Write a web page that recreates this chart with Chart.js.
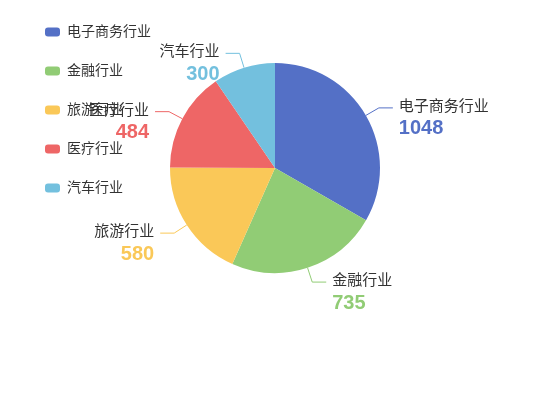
<!DOCTYPE html>
<html>
<head>
<meta charset="utf-8">
<script src="https://cdn.jsdelivr.net/npm/chart.js@4.4.1/dist/chart.umd.min.js"></script>
<style>
  html, body { margin: 0; padding: 0; background: #fff; }
  #wrap { width: 550px; height: 420px; position: relative; }
</style>
</head>
<body>
<div id="wrap"><canvas id="myChart"></canvas></div>
<script>
// ---- data ----
const industries = ['电子商务行业', '金融行业', '旅游行业', '医疗行业', '汽车行业'];
const counts = [1048, 735, 580, 484, 300];
const sliceColors = ['#5470c6', '#91cc75', '#fac858', '#ee6666', '#73c0de'];

const FONT = '"Liberation Sans", "Noto Sans CJK SC", sans-serif';

// outside labels with a two-segment leader line (name on top, value below)
const outerLabels = {
  id: 'outerLabels',
  afterDatasetsDraw(chart) {
    const { ctx } = chart;
    const meta = chart.getDatasetMeta(0);
    const len1 = 15, len2 = 14, gap = 6;
    ctx.save();
    meta.data.forEach((arc, i) => {
      const { x, y, startAngle, endAngle, outerRadius } = arc.getProps(['x', 'y', 'startAngle', 'endAngle', 'outerRadius'], true);
      const mid = (startAngle + endAngle) / 2;
      const cos = Math.cos(mid), sin = Math.sin(mid);
      const p0x = x + outerRadius * cos, p0y = y + outerRadius * sin;
      const p1x = p0x + len1 * cos, p1y = p0y + len1 * sin;
      const right = cos >= 0;
      const p2x = p1x + (right ? len2 : -len2);

      ctx.beginPath();
      ctx.strokeStyle = sliceColors[i];
      ctx.lineWidth = 1;
      ctx.moveTo(p0x, p0y);
      ctx.lineTo(p1x, p1y);
      ctx.lineTo(p2x, p1y);
      ctx.stroke();

      const tx = right ? p2x + gap : p2x - gap;
      ctx.textAlign = right ? 'left' : 'right';
      ctx.textBaseline = 'middle';
      ctx.fillStyle = '#333';
      ctx.font = '15px ' + FONT;
      ctx.fillText(industries[i], tx, p1y - 1);
      ctx.fillStyle = sliceColors[i];
      ctx.font = 'bold 20px ' + FONT;
      ctx.fillText(String(counts[i]), tx, p1y + 21);
    });
    ctx.restore();
  }
};

const config = {
  type: 'pie',
  data: {
    labels: industries,
    datasets: [{
      data: counts,
      backgroundColor: sliceColors,
      borderWidth: 0,
      radius: 105
    }]
  },
  options: {
    responsive: true,
    maintainAspectRatio: false,
    animation: false,
    events: [],
    layout: { padding: { left: 20, right: 20, top: 1, bottom: 85 } },
    plugins: {
      tooltip: { enabled: false },
      legend: {
        position: 'chartArea',
        align: 'start',
        labels: {
          boxWidth: 15,
          boxHeight: 9,
          useBorderRadius: true,
          borderRadius: 3,
          padding: 25,
          color: '#333',
          font: { size: 14, family: FONT }
        }
      }
    }
  },
  plugins: [outerLabels]
};

const myChart = new Chart(document.getElementById('myChart'), config);
</script>
</body>
</html>
